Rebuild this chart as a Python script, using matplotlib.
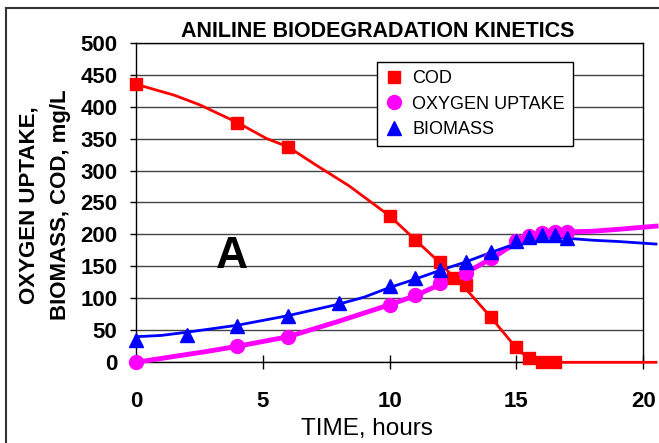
import matplotlib
matplotlib.use('Agg')
import matplotlib.pyplot as plt
from matplotlib.lines import Line2D

plt.rcParams['font.family'] = ['Liberation Sans', 'DejaVu Sans']

# measured points
cod_t = [0, 4, 6, 10, 11, 12, 12.5, 13, 14, 15, 15.5, 16, 16.5]
cod = [435, 375, 337, 229, 192, 157, 132, 121, 71, 24, 7, 0, 0]
o2_t = [0, 4, 6, 10, 11, 12, 13, 14, 15, 15.5, 16, 16.5, 17]
o2 = [0, 26, 40, 90, 105, 124, 140, 163, 189, 198, 203, 204, 204]
bio_t = [0, 2, 4, 6, 8, 10, 11, 12, 13, 14, 15, 15.5, 16, 16.5, 17]
bio = [35, 43, 56, 72, 93, 119, 132, 145, 157, 173, 189, 196, 199, 199, 194]

# model curves (lines)
cod_fit_t = [0, 1.5, 2.5, 4, 5.15, 6, 7, 8.4, 10, 11, 12, 12.5, 13, 14, 15, 15.5, 16, 17, 18, 19, 20.5]
cod_fit = [435, 418, 403, 375, 350, 337, 311, 276, 229, 192, 155, 134, 115, 70, 22, 5, 0, 0, 0, 0, 0]
o2_fit_t = [0, 2.8, 4, 6, 7.9, 10, 11, 12, 13, 14, 15, 15.5, 16, 17, 18, 19, 20.5]
o2_fit = [0, 17, 25, 40, 63, 90, 104, 122, 140, 162, 187, 196, 201, 204, 205, 208, 213]
bio_fit_t = [0, 1, 2, 4, 6, 8, 9, 10, 11, 12, 13, 14, 15, 15.5, 16, 16.5, 17, 18, 19, 20.5]
bio_fit = [40, 42, 47, 58, 73, 91, 102, 117, 130, 144, 157, 172, 186, 193, 196, 196, 194, 191, 189, 185]

xticks = [0, 5, 10, 15, 20]
yticks = list(range(0, 501, 50))

fig = plt.figure(figsize=(6.59, 4.43), dpi=100)
ax = fig.add_axes([0.2064, 0.1822, 0.7698, 0.7214])

# lines
ax.plot(cod_fit_t, cod_fit, color='red', lw=2, clip_on=False, zorder=3)
ax.plot(o2_fit_t, o2_fit, color='magenta', lw=3.5, clip_on=False, zorder=3)
ax.plot(bio_fit_t, bio_fit, color='blue', lw=2, clip_on=False, zorder=3)

# markers
ax.plot(cod_t, cod, ls='none', marker='s', ms=8.5, color='red', clip_on=False, zorder=4, label='COD')
ax.plot(o2_t, o2, ls='none', marker='o', ms=10, color='magenta', clip_on=False, zorder=4, label='OXYGEN UPTAKE')
ax.plot(bio_t, bio, ls='none', marker='^', ms=10, color='blue', clip_on=False, zorder=5, label='BIOMASS')

ax.set_xlim(0, 20)
ax.set_ylim(0, 500)
ax.set_xticks(xticks)
ax.set_yticks(yticks)
ax.grid(axis='y', color='#444444', lw=1)
ax.set_axisbelow(True)
for s in ax.spines.values():
    s.set_color('black')
    s.set_linewidth(1)

ax.tick_params(axis='x', direction='inout', length=10, width=1, pad=16, labelsize=16)
ax.tick_params(axis='y', direction='out', length=4.5, width=1, pad=9, labelsize=16)
for lab in ax.get_xticklabels() + ax.get_yticklabels():
    lab.set_fontweight('bold')

ax.set_xlabel('TIME, hours', fontsize=17.5, va='center')
ax.xaxis.set_label_coords(0.455, -0.21)
ax.set_ylabel('OXYGEN UPTAKE,\nBIOMASS, COD, mg/L', fontsize=16, fontweight='bold',
              linespacing=1.7, va='center')
ax.yaxis.set_label_coords(-0.18, 0.492)

ax.text(3.78, 165, 'A', fontsize=32, fontweight='bold', ha='center', va='center')

fig.text(0.573, 0.93, 'ANILINE BIODEGRADATION KINETICS', fontsize=15.5,
         fontweight='bold', ha='center', va='center')

leg = ax.legend(loc='upper left', bbox_to_anchor=(0.475, 0.94), borderaxespad=0,
                fontsize=13, fancybox=False, framealpha=1, edgecolor='black',
                handlelength=1.0, handletextpad=0.5, labelspacing=0.48, borderpad=0.45)
leg.get_frame().set_linewidth(1)
leg.set_zorder(6)

# outer chart border (left and top)
fig.add_artist(Line2D([6 / 659, 6 / 659], [0, 1 - 7.5 / 443], color='#333333', lw=1.5))
fig.add_artist(Line2D([6 / 659, 1], [1 - 7.5 / 443, 1 - 7.5 / 443], color='#333333', lw=1.5))

fig.savefig('out.png', dpi=100)
